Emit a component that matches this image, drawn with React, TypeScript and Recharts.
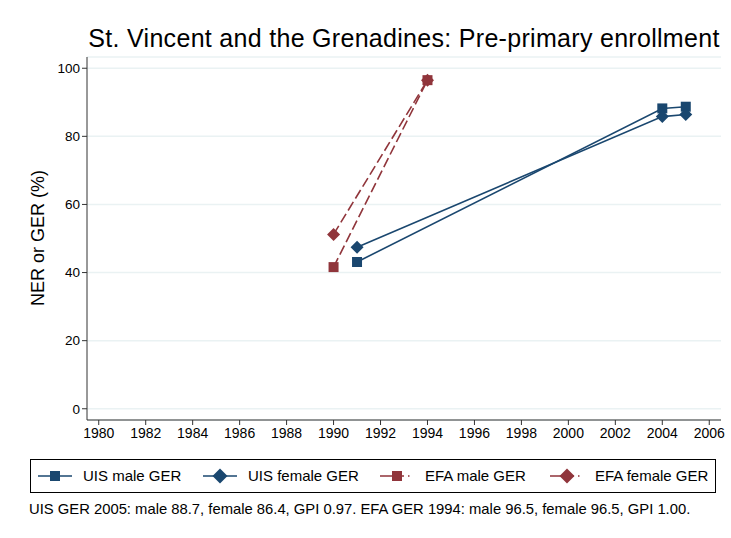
import React from "react";
import { LineChart, Line, XAxis, YAxis, CartesianGrid } from "recharts";

const uisMaleYears = [1991, 2004, 2005];
const uisMaleValues = [43.1, 88.2, 88.7];
const uisFemaleYears = [1991, 2004, 2005];
const uisFemaleValues = [47.4, 85.8, 86.4];
const efaMaleYears = [1990, 1994];
const efaMaleValues = [41.6, 96.5];
const efaFemaleYears = [1990, 1994];
const efaFemaleValues = [51.2, 96.5];

const xTicks = [1980, 1982, 1984, 1986, 1988, 1990, 1992, 1994, 1996, 1998, 2000, 2002, 2004, 2006];
const yTicks = [0, 20, 40, 60, 80, 100];

const NAVY = "#1a476f";
const RED = "#90353b";
const FONT = "'Liberation Sans', Arial, sans-serif";

const toRows = (years: number[], values: number[]) =>
  years.map((year, i) => ({ year, value: values[i] }));

const Square = (props: any) => {
  const { cx, cy, fill } = props;
  if (cx == null || cy == null) return null;
  return <rect x={cx - 5} y={cy - 5} width={10} height={10} fill={fill} />;
};

const Diamond = (props: any) => {
  const { cx, cy, fill } = props;
  if (cx == null || cy == null) return null;
  const r = 6.5;
  return (
    <polygon
      points={`${cx},${cy - r} ${cx + r},${cy} ${cx},${cy + r} ${cx - r},${cy}`}
      fill={fill}
    />
  );
};

const legendItems = [
  { label: "UIS male GER", color: NAVY, dashed: false, shape: "square", sym: 38, text: 83 },
  { label: "UIS female GER", color: NAVY, dashed: false, shape: "diamond", sym: 203, text: 248 },
  { label: "EFA male GER", color: RED, dashed: true, shape: "square", sym: 380, text: 425 },
  { label: "EFA female GER", color: RED, dashed: true, shape: "diamond", sym: 550, text: 595 },
];

const App = () => {
  return (
    <div
      style={{
        position: "absolute",
        left: 0,
        top: 0,
        width: 731,
        height: 538,
        background: "#fff",
        fontFamily: FONT,
      }}
    >
      <div
        style={{
          position: "absolute",
          left: 84,
          width: 640,
          top: 24,
          textAlign: "center",
          fontSize: 25,
          letterSpacing: 0.3,
          lineHeight: "normal",
          color: "#000",
          whiteSpace: "nowrap",
        }}
      >
        St. Vincent and the Grenadines: Pre-primary enrollment
      </div>
      <div
        style={{
          position: "absolute",
          left: 38,
          top: 238,
          transform: "translate(-50%, -50%) rotate(-90deg)",
          fontSize: 18,
          whiteSpace: "nowrap",
        }}
      >
        NER or GER (%)
      </div>
      <LineChart
        width={731}
        height={538}
        margin={{ top: 57, right: 10, left: 37, bottom: 88 }}
      >
        <CartesianGrid horizontal vertical={false} stroke="#eaf2f3" strokeWidth={1.5} />
        <XAxis
          dataKey="year"
          type="number"
          domain={[1979.5, 2006.5]}
          ticks={xTicks}
          allowDuplicatedCategory={false}
          height={30}
          tickSize={5}
          tickMargin={3}
          stroke="#333"
          tick={{ fill: "#000", fontSize: 14, fontFamily: FONT }}
        />
        <YAxis
          type="number"
          domain={[-3.3, 103.3]}
          ticks={yTicks}
          width={50}
          tickSize={5}
          tickMargin={2}
          stroke="#333"
          tick={{ fill: "#000", fontSize: 13.5, fontFamily: FONT }}
        />
        <Line
          data={toRows(uisMaleYears, uisMaleValues)}
          dataKey="value"
          stroke={NAVY}
          strokeWidth={1.6}
          dot={<Square fill={NAVY} />}
          isAnimationActive={false}
        />
        <Line
          data={toRows(uisFemaleYears, uisFemaleValues)}
          dataKey="value"
          stroke={NAVY}
          strokeWidth={1.6}
          dot={<Diamond fill={NAVY} />}
          isAnimationActive={false}
        />
        <Line
          data={toRows(efaMaleYears, efaMaleValues)}
          dataKey="value"
          stroke={RED}
          strokeWidth={1.6}
          strokeDasharray="10 4"
          dot={<Square fill={RED} />}
          isAnimationActive={false}
        />
        <Line
          data={toRows(efaFemaleYears, efaFemaleValues)}
          dataKey="value"
          stroke={RED}
          strokeWidth={1.6}
          strokeDasharray="10 4"
          dot={<Diamond fill={RED} />}
          isAnimationActive={false}
        />
      </LineChart>
      <div
        style={{
          position: "absolute",
          left: 30,
          top: 459,
          width: 686,
          height: 34,
          border: "1px solid #000",
          boxSizing: "border-box",
        }}
      >
        {legendItems.map((item) => (
          <React.Fragment key={item.label}>
            <svg
              width={36}
              height={18}
              style={{ position: "absolute", left: item.sym - 31, top: 7 }}
            >
              <line
                x1={0}
                y1={9}
                x2={34}
                y2={9}
                stroke={item.color}
                strokeWidth={1.6}
                strokeDasharray={item.dashed ? "12 9 3 4 1.5 20" : undefined}
              />
              {item.shape === "square" ? (
                <rect x={12} y={4} width={10} height={10} fill={item.color} />
              ) : (
                <polygon points="17,1.5 24.5,9 17,16.5 9.5,9" fill={item.color} />
              )}
            </svg>
            <div
              style={{
                position: "absolute",
                left: item.text - 31,
                top: 0,
                height: 32,
                lineHeight: "32px",
                fontSize: 15,
                whiteSpace: "nowrap",
              }}
            >
              {item.label}
            </div>
          </React.Fragment>
        ))}
      </div>
      <div
        style={{
          position: "absolute",
          left: 29,
          top: 501,
          fontSize: 14.8,
          lineHeight: "normal",
          whiteSpace: "nowrap",
        }}
      >
        UIS GER 2005: male 88.7, female 86.4, GPI 0.97. EFA GER 1994: male 96.5, female 96.5, GPI 1.00.
      </div>
    </div>
  );
};

export default App;
